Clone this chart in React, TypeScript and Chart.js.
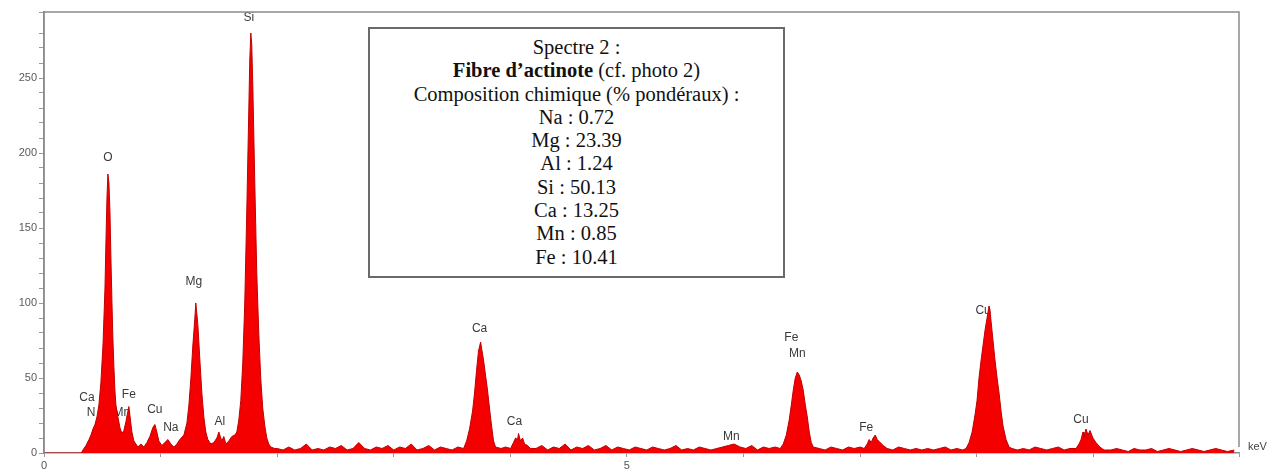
import React, { useEffect, useRef } from "react";
import { Chart, registerables } from "chart.js";

Chart.register(...registerables);

// Spectrum (energy in keV, counts)
const energyKeV = [
  // O region
  0, 0.32, 0.334, 0.36, 0.386, 0.403, 0.42, 0.437, 0.454, 0.471,
  0.488, 0.506, 0.523, 0.531, 0.54, 0.548, 0.557, 0.566, 0.574, 0.583,
  0.591, 0.6, 0.608, 0.617, 0.634, 0.651, 0.668,
  // Fe L, Cu L, Na
  0.685, 0.703, 0.72, 0.728, 0.737, 0.754, 0.771, 0.788, 0.806, 0.831,
  0.857, 0.883, 0.908, 0.934, 0.951, 0.968, 0.985, 1.011, 1.037, 1.063,
  1.088, 1.114, 1.14, 1.165,
  // Mg
  1.2, 1.226, 1.243, 1.26, 1.277, 1.294, 1.302, 1.311, 1.32, 1.337,
  1.354, 1.371, 1.388, 1.405, 1.431,
  // Al, Si
  1.457, 1.483, 1.5, 1.508, 1.525, 1.542, 1.56, 1.585, 1.611, 1.637,
  1.654, 1.671, 1.688, 1.705, 1.722, 1.739, 1.757, 1.765, 1.774, 1.782,
  1.791, 1.808, 1.825, 1.842, 1.859, 1.876, 1.894, 1.911, 1.928, 1.945,
  1.979,
  // baseline
  2.0, 2.05, 2.1, 2.15, 2.2, 2.25, 2.3, 2.35, 2.4, 2.45,
  2.5, 2.55, 2.6, 2.65, 2.7, 2.75, 2.8, 2.85, 2.9, 2.95,
  3.0, 3.05, 3.1, 3.15, 3.2, 3.25, 3.3, 3.35, 3.4, 3.45,
  3.5, 3.55,
  // Ca Ka, Kb
  3.599, 3.625, 3.65, 3.676, 3.693, 3.71, 3.727, 3.745, 3.753, 3.77,
  3.787, 3.804, 3.821, 3.839, 3.856, 3.873, 3.92, 3.96, 4.002, 4.027,
  4.045, 4.062, 4.07, 4.087, 4.105, 4.122, 4.148, 4.173,
  // baseline
  4.22, 4.27, 4.32, 4.37, 4.42, 4.47, 4.52, 4.57, 4.62, 4.67,
  4.72, 4.77, 4.82, 4.87, 4.92, 4.97, 5.02, 5.07, 5.12, 5.17,
  5.22, 5.27, 5.32, 5.37, 5.42, 5.47, 5.52, 5.57, 5.62, 5.67,
  5.72, 5.77, 5.82, 5.87, 5.92, 5.97, 6.02, 6.07, 6.12, 6.17,
  6.22, 6.27,
  // Fe Ka, Kb
  6.315, 6.341, 6.367, 6.392, 6.41, 6.427, 6.444, 6.461, 6.478, 6.495,
  6.512, 6.53, 6.547, 6.564, 6.581, 6.598, 6.65, 6.7, 6.75, 6.8,
  6.85, 6.9, 6.95, 7.0, 7.035, 7.061, 7.078, 7.095, 7.112, 7.13,
  7.147, 7.172, 7.198, 7.232,
  // baseline, Cu Ka
  7.28, 7.33, 7.38, 7.43, 7.48, 7.53, 7.58, 7.63, 7.68, 7.73,
  7.78, 7.83, 7.88, 7.909, 7.935, 7.961, 7.987, 8.003, 8.02, 8.038,
  8.055, 8.072, 8.089, 8.106, 8.115, 8.123, 8.14, 8.157, 8.175, 8.192,
  8.209, 8.226, 8.252, 8.278, 8.303,
  // baseline, Cu Kb, tail
  8.35, 8.4, 8.45, 8.5, 8.55, 8.6, 8.65, 8.7, 8.75, 8.8,
  8.852, 8.878, 8.895, 8.912, 8.92, 8.937, 8.955, 8.972, 8.997, 9.023,
  9.057, 9.092, 9.15, 9.2, 9.25, 9.3, 9.35, 9.4, 9.45, 9.5,
  9.55, 9.6, 9.65, 9.7, 9.75, 9.8, 9.85, 9.9, 9.95, 10.0,
  10.05, 10.1, 10.15, 10.21,
];

const counts = [
  // O region
  0, 0, 2, 5, 9, 12, 16, 19, 24, 32,
  47, 72, 110, 140, 170, 186, 180, 160, 130, 100,
  76, 57, 42, 32, 24, 17, 13,
  // Fe L, Cu L, Na
  15, 21, 28, 31, 25, 14, 8, 6, 4, 6,
  4, 7, 11, 17, 19, 14, 8, 5, 7, 9,
  6, 4, 6, 9,
  // Mg
  12, 20, 32, 50, 72, 90, 100, 93, 85, 62,
  40, 24, 14, 9, 6,
  // Al, Si
  7, 10, 14, 12, 8, 11, 6, 8, 11, 12,
  14, 22, 35, 60, 100, 160, 230, 262, 280, 272,
  245, 180, 120, 80, 50, 30, 18, 10, 6, 4,
  3,
  // baseline
  3, 2, 4, 2, 3, 6, 2, 3, 2, 4,
  3, 5, 2, 3, 7, 3, 2, 4, 3, 5,
  2, 4, 3, 6, 2, 3, 5, 2, 4, 3,
  2, 4,
  // Ca Ka, Kb
  3, 8, 16, 28, 40, 55, 68, 74, 70, 62,
  52, 42, 30, 18, 8, 4, 3, 4, 3, 7,
  10, 9, 13, 8, 10, 6, 5, 3,
  // baseline
  3, 5, 2, 4, 3, 6, 2, 4, 3, 5,
  2, 3, 5, 2, 4, 3, 2, 4, 3, 2,
  4, 3, 2, 3, 5, 2, 3, 2, 4, 3,
  2, 3, 4, 5, 6, 4, 3, 5, 2, 4,
  3, 4,
  // Fe Ka, Kb
  3, 6, 12, 22, 32, 42, 50, 54, 52, 48,
  42, 32, 24, 14, 7, 4, 3, 2, 4, 3,
  2, 4, 3, 4, 3, 6, 9, 7, 10, 12,
  9, 7, 5, 3,
  // baseline, Cu Ka
  2, 4, 3, 2, 3, 2, 3, 2, 3, 4,
  2, 3, 2, 3, 7, 14, 26, 35, 50, 62,
  72, 82, 90, 98, 95, 88, 75, 62, 50, 40,
  28, 18, 9, 4, 3,
  // baseline, Cu Kb, tail
  2, 3, 2, 4, 3, 2, 3, 4, 2, 3,
  3, 6, 9, 14, 10, 16, 12, 15, 10, 7,
  4, 2, 2, 3, 2, 1, 3, 2, 2, 3,
  1, 2, 3, 2, 1, 2, 3, 2, 1, 2,
  3, 2, 1, 2,
];

// Peak identification labels (anchored in data units: keV, counts)
const peakNames = ["Si", "O", "Mg", "Ca", "N", "Fe", "Mn", "Cu", "Na", "Al", "Ca", "Ca", "Mn", "Fe", "Mn", "Fe", "Cu", "Cu"];
const peakKeV = [1.757, 0.548, 1.285, 0.368, 0.403, 0.728, 0.668, 0.951, 1.088, 1.508, 3.736, 4.036, 5.895, 6.41, 6.461, 7.052, 8.055, 8.895];
const peakCounts = [290, 197, 114, 37, 27, 39, 27, 29, 17, 21, 83, 21, 11, 77, 66, 17, 95, 22];

// Axis settings
const xMin = 0;
const xMax = 10.25;
const yMin = 0;
const yMax = 294;
const xLabelEvery = 5;
const yLabelEvery = 50;
const xUnit = "keV";

// Info box text
const boxTitle = "Spectre 2 :";
const boxSampleBold = "Fibre d\u2019actinote";
const boxSampleRest = " (cf. photo 2)";
const boxSubtitle = "Composition chimique (% pondéraux) :";
const compElements = ["Na", "Mg", "Al", "Si", "Ca", "Mn", "Fe"];
const compValues = ["0.72", "23.39", "1.24", "50.13", "13.25", "0.85", "10.41"];

export default function App() {
  const canvasRef = useRef<HTMLCanvasElement>(null);

  useEffect(() => {
    document.body.style.margin = "0";
    const canvas = canvasRef.current;
    if (!canvas) return;

    const labelPlugin = {
      id: "peakLabels",
      beforeDatasetsDraw(chart: any) {
        const { ctx, scales } = chart;
        const x = scales.x;
        const y = scales.y;
        ctx.save();
        ctx.font = "12px 'Liberation Sans', Arial, sans-serif";
        ctx.fillStyle = "#3a3a3a";
        ctx.textAlign = "center";
        ctx.textBaseline = "middle";
        peakNames.forEach((n, i) => {
          ctx.fillText(n, x.getPixelForValue(peakKeV[i]), y.getPixelForValue(peakCounts[i]));
        });
        ctx.restore();
      },
    };

    const framePlugin = {
      id: "frame",
      afterDraw(chart: any) {
        const { ctx, chartArea: a } = chart;
        ctx.save();
        ctx.strokeStyle = "#8c8c8c";
        ctx.lineWidth = 1.5;
        ctx.beginPath();
        ctx.moveTo(a.left, a.bottom);
        ctx.lineTo(a.left, a.top);
        ctx.lineTo(a.right, a.top);
        ctx.lineTo(a.right, a.bottom - 6);
        ctx.stroke();
        ctx.font = "11px 'Liberation Sans', Arial, sans-serif";
        ctx.fillStyle = "#444";
        ctx.textAlign = "left";
        ctx.textBaseline = "middle";
        ctx.fillText(xUnit, a.right + 9, a.bottom - 6);
        ctx.restore();
      },
    };

    const chart = new Chart(canvas, {
      type: "line",
      data: {
        datasets: [
          {
            data: energyKeV.map((e, i) => ({ x: e, y: counts[i] })),
            fill: "origin",
            backgroundColor: "#f50000",
            borderColor: "#c00000",
            borderWidth: 1,
            pointRadius: 0,
            tension: 0,
          },
        ],
      },
      options: {
        animation: false,
        responsive: true,
        maintainAspectRatio: false,
        layout: { padding: { top: 12, right: 43, left: 0, bottom: 0 } },
        plugins: { legend: { display: false }, tooltip: { enabled: false } },
        scales: {
          x: {
            type: "linear",
            min: xMin,
            max: xMax,
            afterFit: (s: any) => {
              s.height = 19;
            },
            ticks: {
              stepSize: 1,
              autoSkip: false,
              maxRotation: 0,
              padding: 2,
              color: "#555",
              font: { family: "'Liberation Sans', Arial, sans-serif", size: 11 },
              callback: (v: any) => (Number(v) % xLabelEvery === 0 ? String(v) : ""),
            },
            grid: { drawOnChartArea: false, tickLength: 4, color: "#999" },
            border: { display: true, color: "#8c8c8c", width: 1.5 },
          },
          y: {
            type: "linear",
            min: yMin,
            max: yMax,
            afterFit: (s: any) => {
              s.width = 44;
            },
            ticks: {
              stepSize: 10,
              autoSkip: false,
              padding: 2,
              color: "#5a5a5a",
              font: { family: "'Liberation Sans', Arial, sans-serif", size: 11 },
              callback: (v: any) => (Number(v) % yLabelEvery === 0 ? String(v) : ""),
            },
            grid: { drawOnChartArea: false, tickLength: 5, color: "#999" },
            border: { display: true, color: "#8c8c8c", width: 1.5 },
          },
        },
      },
      plugins: [labelPlugin, framePlugin],
    });

    return () => chart.destroy();
  }, []);

  const lineStyle: React.CSSProperties = { height: 23.3, lineHeight: "23.3px", whiteSpace: "nowrap" };

  return (
    <div style={{ position: "relative", width: 1282, height: 472, background: "#fff" }}>
      <canvas ref={canvasRef} />
      <div
        style={{
          position: "absolute",
          left: 368,
          top: 27,
          width: 417,
          height: 251,
          boxSizing: "border-box",
          border: "2px solid #6a6a6a",
          background: "#fff",
          paddingTop: 7,
          textAlign: "center",
          fontFamily: "'Liberation Serif', 'Times New Roman', serif",
          fontSize: 20.5,
          color: "#111",
        }}
      >
        <div style={lineStyle}>{boxTitle}</div>
        <div style={lineStyle}>
          <b>{boxSampleBold}</b>
          {boxSampleRest}
        </div>
        <div style={lineStyle}>{boxSubtitle}</div>
        {compElements.map((el, i) => (
          <div key={el} style={lineStyle}>
            {el} : {compValues[i]}
          </div>
        ))}
      </div>
    </div>
  );
}
